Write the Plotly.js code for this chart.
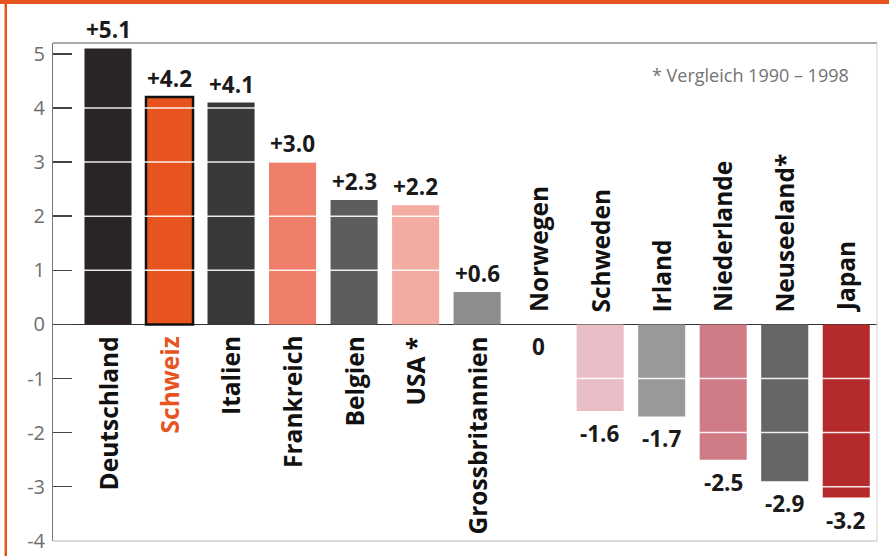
<!DOCTYPE html>
<html>
<head>
<meta charset="utf-8">
<script src="https://cdn.plot.ly/plotly-3.0.1.min.js"></script>
<style>
html,body{margin:0;padding:0;background:#fff;}
#chart{width:889px;height:556px;}
</style>
</head>
<body>
<div id="chart"></div>
<script>
// ---- data ----
const countries = ["Deutschland","Schweiz","Italien","Frankreich","Belgien","USA *","Grossbritannien","Norwegen","Schweden","Irland","Niederlande","Neuseeland*","Japan"];
const values = [5.1, 4.2, 4.1, 3.0, 2.3, 2.2, 0.6, 0, -1.6, -1.7, -2.5, -2.9, -3.2];
const barColors = ["#2a2425","#e8541f","#3a3737","#ef7f6b","#5e5c5c","#f4aca2","#8e8d8d","#ffffff","#e9bdc6","#9a9999","#d07c87","#676666","#b52a2b"];
const labelColors = ["#111","#e8541f","#111","#111","#111","#111","#111","#111","#111","#111","#111","#111","#111"];
const yTicks = [-4,-3,-2,-1,0,1,2,3,4,5];
const note = "* Vergleich 1990 – 1998";

// ---- layout geometry ----
const W = 889, H = 556;
const M = {l:53, r:12, t:43, b:15};
const pw = W - M.l - M.r, ph = H - M.t - M.b;
const px = x => (x - M.l) / pw;          // pixel -> paper x
const py = y => (H - M.b - y) / ph;       // pixel -> paper y
const orange = "#e8541f";
const FONT = "Open Sans, Noto Sans, sans-serif";

const fmt = v => v > 0 ? "+" + v.toFixed(1) : (v === 0 ? "0" : v.toFixed(1));

const trace = {
  type: "bar",
  x: countries,
  y: values,
  marker: {
    color: barColors,
    line: {color: "#111", width: values.map((v,i) => countries[i] === "Schweiz" ? 2.5 : 0)}
  },
  hoverinfo: "x+y"
};

const annotations = [];
countries.forEach((c, i) => {
  const v = values[i];
  // category label
  annotations.push({
    x: c, y: 0, xref: "x", yref: "y",
    text: "<b>" + c + "</b>",
    textangle: -90, showarrow: false,
    xanchor: "center",
    yanchor: v > 0 ? "top" : "bottom",
    yshift: v > 0 ? -10 : 10,
    font: {family: FONT, size: 24.5, color: labelColors[i]}
  });
  // value label
  annotations.push({
    x: c, y: v, xref: "x", yref: "y",
    text: "<b>" + fmt(v) + "</b>",
    showarrow: false,
    xanchor: "center",
    yanchor: v > 0 ? "bottom" : "top",
    yshift: v > 0 ? 1 : -5,
    font: {family: FONT, size: 22.5, color: "#1a1a1a"}
  });
});
annotations.push({
  xref: "paper", yref: "paper", x: px(851), y: py(75),
  xanchor: "right", yanchor: "middle", showarrow: false,
  text: note, font: {family: FONT, size: 18, color: "#737373"}
});

const shapes = [];
// white gridlines drawn across the bars
yTicks.filter(t => t !== 0 && t !== -4 && t !== 5).forEach(t => {
  shapes.push({type: "line", layer: "above", xref: "paper", yref: "y",
    x0: px(76), x1: 1, y0: t, y1: t, line: {color: "rgba(255,255,255,0.9)", width: 1.5}});
});
// frame
shapes.push({type: "line", xref: "paper", yref: "paper", x0: 0, x1: 1, y0: 1, y1: 1, line: {color: "#5a5050", width: 1}});
shapes.push({type: "line", xref: "paper", yref: "paper", x0: 1, x1: 1, y0: 0, y1: 1, line: {color: "#d0d0d0", width: 1}});
shapes.push({type: "line", xref: "paper", yref: "paper", x0: 0, x1: 1, y0: 0, y1: 0, line: {color: "#cfcfcf", width: 1.5}});
// orange border strips
shapes.push({type: "rect", xref: "paper", yref: "paper", x0: px(0), x1: px(W), y0: py(4), y1: py(-2), fillcolor: orange, line: {width: 0}});
shapes.push({type: "rect", xref: "paper", yref: "paper", x0: px(4.5), x1: px(7), y0: py(H + 2), y1: py(3), fillcolor: orange, line: {width: 0}});

const layout = {
  width: W, height: H,
  margin: M,
  paper_bgcolor: "#ffffff",
  plot_bgcolor: "#ffffff",
  showlegend: false,
  bargap: 0.235,
  xaxis: {
    type: "category",
    range: [-0.894, 12.5],
    showticklabels: false, showgrid: false, zeroline: false, showline: false, ticks: ""
  },
  yaxis: {
    range: [-4.003, 5.2],
    tickvals: yTicks,
    ticktext: yTicks.map(String),
    ticks: "inside", ticklen: 19, tickwidth: 1.5, tickcolor: "#444",
    showgrid: false,
    showline: true, linecolor: "#777", linewidth: 1,
    zeroline: true, zerolinecolor: "#333", zerolinewidth: 1.5,
    tickfont: {family: FONT, size: 20, color: "#6e6e6e"},
    ticklabelstandoff: 3,
    ticklabeloverflow: "allow"
  },
  annotations: annotations,
  shapes: shapes,
  font: {family: FONT}
};

Plotly.newPlot("chart", [trace], layout, {displayModeBar: false, staticPlot: true});
</script>
</body>
</html>
